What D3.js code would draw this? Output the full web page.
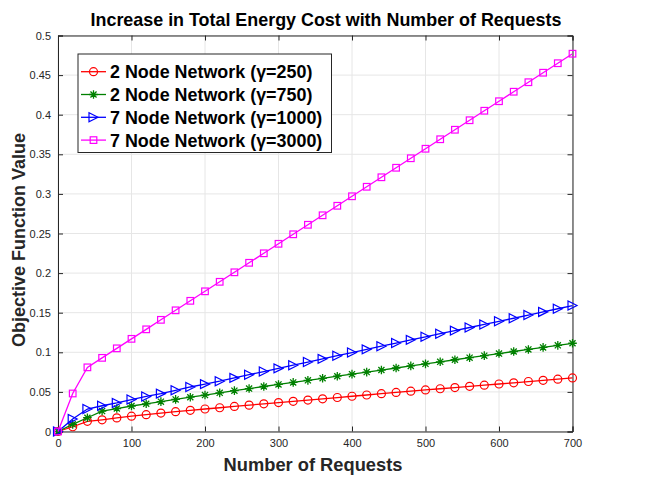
<!DOCTYPE html>
<html><head><meta charset="utf-8">
<script src="https://cdn.jsdelivr.net/npm/d3@7"></script>
<style>body{margin:0;background:#fff;} svg{display:block;font-family:"Liberation Sans",Arial,Helvetica,sans-serif;}</style>
</head><body>
<svg id="c" width="664" height="487"></svg>
<script>
const requests = [0,20,40,60,80,100,120,140,160,180,200,220,240,260,280,300,320,340,360,380,400,420,440,460,480,500,520,540,560,580,600,620,640,660,680,700];
const node2g250 = [0,0.006,0.0128,0.0148,0.0172,0.0193,0.0213,0.0233,0.0250,0.0267,0.0284,0.0300,0.0317,0.0333,0.0349,0.0365,0.0381,0.0397,0.0413,0.0429,0.0445,0.0461,0.0477,0.0493,0.0509,0.0525,0.0540,0.0555,0.0570,0.0585,0.0600,0.0615,0.0631,0.0646,0.0661,0.0677];
const node2g750 = [0,0.009,0.0174,0.0258,0.0290,0.0322,0.0350,0.0377,0.0405,0.0433,0.0460,0.0488,0.0516,0.0542,0.0568,0.0594,0.0620,0.0646,0.0672,0.0698,0.0724,0.0750,0.0776,0.0802,0.0828,0.0854,0.0880,0.0906,0.0932,0.0958,0.0984,0.1010,0.1036,0.1062,0.1088,0.1114];
const node7g1000 = [0,0.0157,0.0283,0.0325,0.0360,0.0403,0.0443,0.0478,0.0520,0.0562,0.0598,0.0635,0.0677,0.0717,0.0757,0.0797,0.0837,0.0877,0.0917,0.0957,0.0997,0.1037,0.1077,0.1117,0.1157,0.1196,0.1235,0.1274,0.1313,0.1352,0.1391,0.1430,0.1470,0.1510,0.1550,0.1590];
const node7g3000 = [0,0.048,0.081,0.093,0.105,0.117,0.129,0.141,0.153,0.165,0.177,0.189,0.201,0.213,0.225,0.237,0.249,0.261,0.273,0.285,0.297,0.309,0.321,0.333,0.345,0.357,0.369,0.381,0.393,0.405,0.417,0.429,0.441,0.453,0.465,0.477];
const xTicks = [0,100,200,300,400,500,600,700];
const yTicks = [0,0.05,0.1,0.15,0.2,0.25,0.3,0.35,0.4,0.45,0.5];
const seriesNames = ["2 Node Network (\u03b3=250)","2 Node Network (\u03b3=750)","7 Node Network (\u03b3=1000)","7 Node Network (\u03b3=3000)"];
const seriesColors = ["#ff0000","#008000","#0000ff","#ff00ff"];
const seriesMarkers = ["circle","star","triangle","square"];
const seriesData = [node2g250,node2g750,node7g1000,node7g3000];

const svg = d3.select("#c");
const L=58, R=572.5, T=35.5, B=431.5;
const x = d3.scaleLinear().domain([0,700]).range([L,R]);
const y = d3.scaleLinear().domain([0,0.5]).range([B,T]);
const axisCol="#262626";

// grid
const g = svg.append("g");
g.selectAll(".gx").data(xTicks).enter().append("line")
 .attr("x1",d=>x(d)).attr("x2",d=>x(d)).attr("y1",T).attr("y2",B)
 .attr("stroke","#e6e6e6").attr("stroke-width",1);
g.selectAll(".gy").data(yTicks).enter().append("line")
 .attr("y1",d=>y(d)).attr("y2",d=>y(d)).attr("x1",L).attr("x2",R)
 .attr("stroke","#e6e6e6").attr("stroke-width",1);

// axes
const fmtY = d=>d===0?"0":String(+d.toFixed(2));
const ax = svg.append("g").attr("transform",`translate(0,${B})`)
 .call(d3.axisBottom(x).tickValues(xTicks).tickSize(-5).tickPadding(8).tickFormat(d3.format("d")));
const axT = svg.append("g").attr("transform",`translate(0,${T})`)
 .call(d3.axisTop(x).tickValues(xTicks).tickSize(-5).tickFormat(""));
const ay = svg.append("g").attr("transform",`translate(${L},0)`)
 .call(d3.axisLeft(y).tickValues(yTicks).tickSize(-5).tickPadding(7).tickFormat(fmtY));
const ayR = svg.append("g").attr("transform",`translate(${R},0)`)
 .call(d3.axisRight(y).tickValues(yTicks).tickSize(-5).tickFormat(""));
[ax,axT,ay,ayR].forEach(a=>{
  a.selectAll("path").attr("stroke",axisCol).attr("stroke-width",1);
  a.selectAll("line").attr("stroke",axisCol).attr("stroke-width",1);
  a.selectAll("text").attr("fill",axisCol).attr("font-size","11px")
   .attr("font-family","'Liberation Sans',Arial,sans-serif");
});

// markers
function drawMarker(sel, type, color, cx, cy){
  if(type==="circle"){
    sel.append("circle").attr("cx",cx).attr("cy",cy).attr("r",4)
      .attr("fill","none").attr("stroke",color).attr("stroke-width",1.2);
  } else if(type==="square"){
    sel.append("rect").attr("x",cx-3.3).attr("y",cy-3.3).attr("width",6.6).attr("height",6.6)
      .attr("fill","none").attr("stroke",color).attr("stroke-width",1.2);
  } else if(type==="triangle"){
    const s=4.5;
    sel.append("path").attr("d",`M${cx+s},${cy}L${cx-s},${cy-s}L${cx-s},${cy+s}Z`)
      .attr("fill","none").attr("stroke",color).attr("stroke-width",1.2);
  } else if(type==="star"){
    const s=4.3;
    let d="";
    [0,45,90,135].forEach(a=>{const r=a*Math.PI/180;
      d+=`M${cx-s*Math.cos(r)},${cy-s*Math.sin(r)}L${cx+s*Math.cos(r)},${cy+s*Math.sin(r)}`;});
    sel.append("path").attr("d",d).attr("fill","none").attr("stroke",color).attr("stroke-width",1.3);
  }
}

const line = d3.line().x((d,i)=>x(requests[i])).y(d=>y(d));
seriesData.forEach((data,k)=>{
  const sg = svg.append("g");
  sg.append("path").datum(data).attr("d",line).attr("fill","none")
    .attr("stroke",seriesColors[k]).attr("stroke-width",1.3);
  data.forEach((v,i)=>drawMarker(sg, seriesMarkers[k], seriesColors[k], x(requests[i]), y(v)));
});

// legend
const lg = svg.append("g");
lg.append("rect").attr("x",78).attr("y",54).attr("width",253.5).attr("height",98.5)
  .attr("fill","#fff").attr("stroke",axisCol).attr("stroke-width",1);
seriesNames.forEach((n,k)=>{
  const cy = 71.7 + k*22.8;
  lg.append("line").attr("x1",81).attr("x2",106).attr("y1",cy).attr("y2",cy)
    .attr("stroke",seriesColors[k]).attr("stroke-width",1.3);
  drawMarker(lg, seriesMarkers[k], seriesColors[k], 93.5, cy);
  lg.append("text").attr("x",110).attr("y",cy).attr("dy","0.36em")
    .attr("font-size","17.9px").attr("font-weight","bold").attr("fill","#000").text(n);
});

// title & labels
svg.append("text").attr("x",326).attr("y",26).attr("text-anchor","middle")
  .attr("font-size","17.9px").attr("font-weight","bold").attr("fill","#000")
  .text("Increase in Total Energy Cost with Number of Requests");
svg.append("text").attr("x",313).attr("y",471).attr("text-anchor","middle")
  .attr("font-size","18.3px").attr("font-weight","bold").attr("fill","#262626")
  .text("Number of Requests");
svg.append("text").attr("transform","translate(25,240) rotate(-90)").attr("text-anchor","middle")
  .attr("font-size","18px").attr("font-weight","bold").attr("fill","#262626")
  .text("Objective Function Value");
</script>
</body></html>
